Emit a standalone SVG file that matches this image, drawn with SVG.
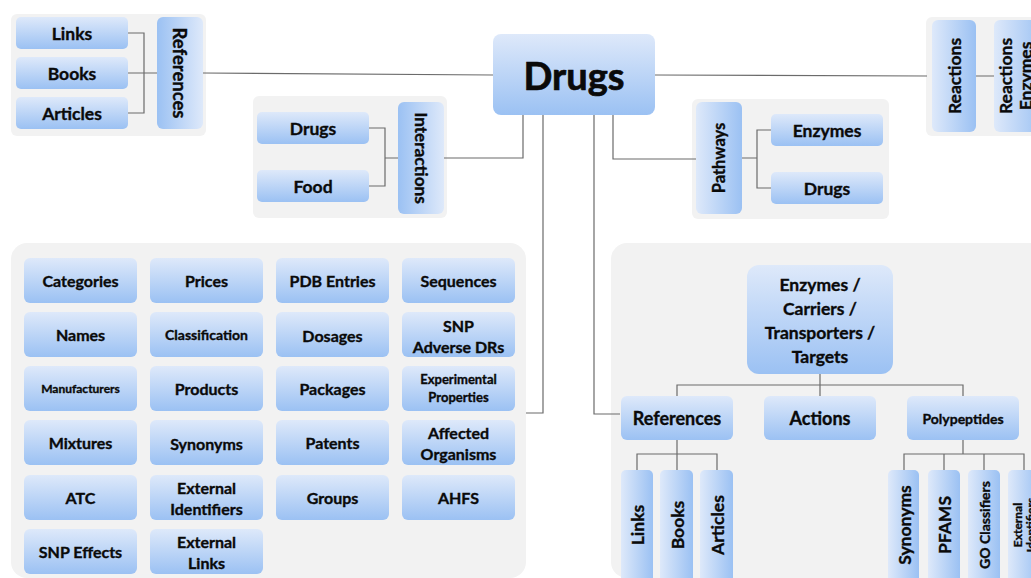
<svg xmlns="http://www.w3.org/2000/svg" width="1031" height="578" viewBox="0 0 1031 578">
  <defs>
    <linearGradient id="gv" x1="0" y1="0" x2="0" y2="1">
      <stop offset="0" stop-color="#dee9fa"/>
      <stop offset="1" stop-color="#9bc1f3"/>
    </linearGradient>
    <!-- light on the left, for text read bottom-to-top -->
    <linearGradient id="gl" x1="0" y1="0" x2="1" y2="0">
      <stop offset="0" stop-color="#dee9fa"/>
      <stop offset="1" stop-color="#9bc1f3"/>
    </linearGradient>
    <!-- light on the right, for text read top-to-bottom -->
    <linearGradient id="gr" x1="1" y1="0" x2="0" y2="0">
      <stop offset="0" stop-color="#dee9fa"/>
      <stop offset="1" stop-color="#9bc1f3"/>
    </linearGradient>
    <style>
      .panel { fill: #f2f2f2; }
      .n { fill: url(#gv); }
      .vl { fill: url(#gl); }
      .vr { fill: url(#gr); }
      .t { font-family: Lato, "Liberation Sans", sans-serif; font-weight: bold; fill: #0a0a0a; stroke: #0a0a0a; stroke-width: 0.35px; text-anchor: middle; dominant-baseline: central; font-size: 16px; }
      .s17 { font-size: 17.5px; }
      .s14 { font-size: 14px; }
      .s13 { font-size: 13px; }
      .s12 { font-size: 12px; }
      .c { stroke: #6b6b6b; stroke-width: 1.2; fill: none; }
    </style>
  </defs>

  <!-- background panels -->
  <g id="panels">
    <rect class="panel" x="11" y="14" width="195" height="122" rx="6"/>
    <rect class="panel" x="253" y="96" width="194" height="122" rx="6"/>
    <rect class="panel" x="692" y="99" width="197" height="120" rx="6"/>
    <rect class="panel" x="926" y="17" width="120" height="119" rx="6"/>
    <rect class="panel" x="11" y="243" width="515" height="335" rx="16"/>
    <rect class="panel" x="611" y="243" width="440" height="335" rx="16"/>
  </g>

  <!-- connectors -->
  <g id="connectors">
    <path class="c" d="M128 33 H144 V113 H128 M128 73 H157 M203 73 L493 75"/>
    <path class="c" d="M655 75 L927 76 M976 76 H994"/>
    <path class="c" d="M369 128 H385 V186 H369 M385 158 H398 M444 158 H523 V115"/>
    <path class="c" d="M543 115 V413 H526"/>
    <path class="c" d="M594 115 V414 H620"/>
    <path class="c" d="M613 115 V159 H696"/>
    <path class="c" d="M742 158 H757 M771 130 H757 V188 H771"/>
    <path class="c" d="M820 374 V396 M677 396 V385 H963 V396"/>
    <path class="c" d="M677 440 V470 M637 470 V454 H717 V470"/>
    <path class="c" d="M963 440 V454 M904 470 V454 H1024 V470 M944 454 V470 M984 454 V470"/>
  </g>

  <!-- root -->
  <g id="drugs-root">
    <rect class="n" x="493" y="34" width="162" height="81" rx="8"/>
    <text class="t" x="574" y="75" style="font-size:38px;stroke-width:0.7px">Drugs</text>
  </g>

  <!-- references (top left) -->
  <g id="ref-links"><rect class="n" x="16" y="17" width="112" height="32" rx="5"/><text class="t s17" x="72" y="33">Links</text></g>
  <g id="ref-books"><rect class="n" x="16" y="57" width="112" height="32" rx="5"/><text class="t s17" x="72" y="73">Books</text></g>
  <g id="ref-articles"><rect class="n" x="16" y="97" width="112" height="32" rx="5"/><text class="t s17" x="72" y="113">Articles</text></g>
  <g id="references"><rect class="vr" x="157" y="17" width="46" height="112" rx="6"/><text class="t" x="180" y="73" style="font-size:18.5px" transform="rotate(90 180 73)">References</text></g>

  <!-- interactions -->
  <g id="int-drugs"><rect class="n" x="257" y="112" width="112" height="32" rx="5"/><text class="t s17" x="313" y="128">Drugs</text></g>
  <g id="int-food"><rect class="n" x="257" y="170" width="112" height="32" rx="5"/><text class="t s17" x="313" y="186">Food</text></g>
  <g id="interactions"><rect class="vr" x="398" y="102" width="46" height="112" rx="6"/><text class="t" x="421" y="158" style="font-size:17.2px" transform="rotate(90 421 158)">Interactions</text></g>

  <!-- pathways -->
  <g id="pathways"><rect class="vl" x="696" y="102" width="46" height="112" rx="6"/><text class="t" x="719" y="158" style="font-size:16.5px" transform="rotate(-90 719 158)">Pathways</text></g>
  <g id="path-enzymes"><rect class="n" x="771" y="114" width="112" height="32" rx="5"/><text class="t s17" x="827" y="130">Enzymes</text></g>
  <g id="path-drugs"><rect class="n" x="771" y="172" width="112" height="32" rx="5"/><text class="t s17" x="827" y="188">Drugs</text></g>

  <!-- reactions -->
  <g id="reactions"><rect class="vl" x="932" y="20" width="44" height="112" rx="6"/><text class="t s17" x="954" y="76" transform="rotate(-90 954 76)">Reactions</text></g>
  <g id="reactions-enzymes"><rect class="vl" x="994" y="20" width="50" height="112" rx="6"/>
    <text class="t s17" x="1005" y="76" transform="rotate(-90 1005 76)">Reactions</text>
    <text class="t s17" x="1025" y="76" transform="rotate(-90 1025 76)">Enzymes</text>
  </g>

  <!-- drug properties grid -->
  <g id="g-categories"><rect class="n" x="24" y="258" width="113" height="45" rx="6"/><text class="t" x="80.5" y="280.5">Categories</text></g>
  <g id="g-prices"><rect class="n" x="150" y="258" width="113" height="45" rx="6"/><text class="t" x="206.5" y="280.5">Prices</text></g>
  <g id="g-pdb"><rect class="n" x="276" y="258" width="113" height="45" rx="6"/><text class="t" x="332.5" y="280.5">PDB Entries</text></g>
  <g id="g-sequences"><rect class="n" x="402" y="258" width="113" height="45" rx="6"/><text class="t" x="458.5" y="280.5">Sequences</text></g>

  <g id="g-names"><rect class="n" x="24" y="312" width="113" height="45" rx="6"/><text class="t" x="80.5" y="334.5">Names</text></g>
  <g id="g-classification"><rect class="n" x="150" y="312" width="113" height="45" rx="6"/><text class="t s14" x="206.5" y="334">Classification</text></g>
  <g id="g-dosages"><rect class="n" x="276" y="312" width="113" height="45" rx="6"/><text class="t" x="332.5" y="335.5">Dosages</text></g>
  <g id="g-snp-adr"><rect class="n" x="402" y="312" width="113" height="45" rx="6"/><text class="t" x="458.5" y="325">SNP</text><text class="t" x="458.5" y="346">Adverse DRs</text></g>

  <g id="g-manufacturers"><rect class="n" x="24" y="366" width="113" height="45" rx="6"/><text class="t s12" x="80.5" y="388.5">Manufacturers</text></g>
  <g id="g-products"><rect class="n" x="150" y="366" width="113" height="45" rx="6"/><text class="t" x="206.5" y="388.5">Products</text></g>
  <g id="g-packages"><rect class="n" x="276" y="366" width="113" height="45" rx="6"/><text class="t" x="332.5" y="388.5">Packages</text></g>
  <g id="g-experimental"><rect class="n" x="402" y="366" width="113" height="45" rx="6"/><text class="t s13" x="458.5" y="379">Experimental</text><text class="t s13" x="458.5" y="397">Properties</text></g>

  <g id="g-mixtures"><rect class="n" x="24" y="420" width="113" height="45" rx="6"/><text class="t" x="80.5" y="442.5">Mixtures</text></g>
  <g id="g-synonyms"><rect class="n" x="150" y="420" width="113" height="45" rx="6"/><text class="t" x="206.5" y="443.5">Synonyms</text></g>
  <g id="g-patents"><rect class="n" x="276" y="420" width="113" height="45" rx="6"/><text class="t" x="332.5" y="442.5">Patents</text></g>
  <g id="g-affected"><rect class="n" x="402" y="420" width="113" height="45" rx="6"/><text class="t" x="458.5" y="432">Affected</text><text class="t" x="458.5" y="453">Organisms</text></g>

  <g id="g-atc"><rect class="n" x="24" y="475" width="113" height="45" rx="6"/><text class="t" x="80.5" y="497.5">ATC</text></g>
  <g id="g-ext-ids"><rect class="n" x="150" y="475" width="113" height="45" rx="6"/><text class="t" x="206.5" y="487">External</text><text class="t" x="206.5" y="508">Identifiers</text></g>
  <g id="g-groups"><rect class="n" x="276" y="475" width="113" height="45" rx="6"/><text class="t" x="332.5" y="497.5">Groups</text></g>
  <g id="g-ahfs"><rect class="n" x="402" y="475" width="113" height="45" rx="6"/><text class="t" x="458.5" y="497.5">AHFS</text></g>

  <g id="g-snp-effects"><rect class="n" x="24" y="529" width="113" height="45" rx="6"/><text class="t" x="80.5" y="551.5">SNP Effects</text></g>
  <g id="g-ext-links"><rect class="n" x="150" y="529" width="113" height="45" rx="6"/><text class="t" x="206.5" y="541">External</text><text class="t" x="206.5" y="562">Links</text></g>

  <!-- targets tree -->
  <g id="targets"><rect class="n" x="747" y="265" width="146" height="109" rx="12"/>
    <text class="t s17" x="820" y="284">Enzymes /</text>
    <text class="t s17" x="820" y="308">Carriers /</text>
    <text class="t s17" x="820" y="332">Transporters /</text>
    <text class="t s17" x="820" y="356">Targets</text>
  </g>
  <g id="t-references"><rect class="n" x="621" y="396" width="112" height="44" rx="6"/><text class="t" x="677" y="418" style="font-size:18px">References</text></g>
  <g id="t-actions"><rect class="n" x="764" y="396" width="112" height="44" rx="6"/><text class="t" x="820" y="418" style="font-size:18px">Actions</text></g>
  <g id="t-polypeptides"><rect class="n" x="907" y="396" width="112" height="44" rx="6"/><text class="t s14" x="963" y="418">Polypeptides</text></g>

  <g id="t-links"><rect class="vl" x="621" y="470" width="32" height="115" rx="5"/><text class="t s17" x="637" y="525" transform="rotate(-90 637 525)">Links</text></g>
  <g id="t-books"><rect class="vl" x="660" y="470" width="33" height="115" rx="5"/><text class="t s17" x="677" y="525" transform="rotate(-90 677 525)">Books</text></g>
  <g id="t-articles"><rect class="vl" x="700" y="470" width="33" height="115" rx="5"/><text class="t s17" x="717" y="525" transform="rotate(-90 717 525)">Articles</text></g>

  <g id="p-synonyms"><rect class="vl" x="888" y="470" width="31" height="115" rx="5"/><text class="t s17" x="904" y="525" transform="rotate(-90 904 525)">Synonyms</text></g>
  <g id="p-pfams"><rect class="vl" x="928" y="470" width="32" height="115" rx="5"/><text class="t s17" x="944" y="525" transform="rotate(-90 944 525)">PFAMS</text></g>
  <g id="p-go"><rect class="vl" x="968" y="470" width="32" height="115" rx="5"/><text class="t s14" x="984" y="525" transform="rotate(-90 984 525)">GO Classifiers</text></g>
  <g id="p-external"><rect class="vl" x="1008" y="470" width="32" height="115" rx="5"/>
    <text class="t s12" x="1017" y="525" transform="rotate(-90 1017 525)">External</text>
    <text class="t s12" x="1030" y="525" transform="rotate(-90 1030 525)">Identifiers</text>
  </g>
</svg>
